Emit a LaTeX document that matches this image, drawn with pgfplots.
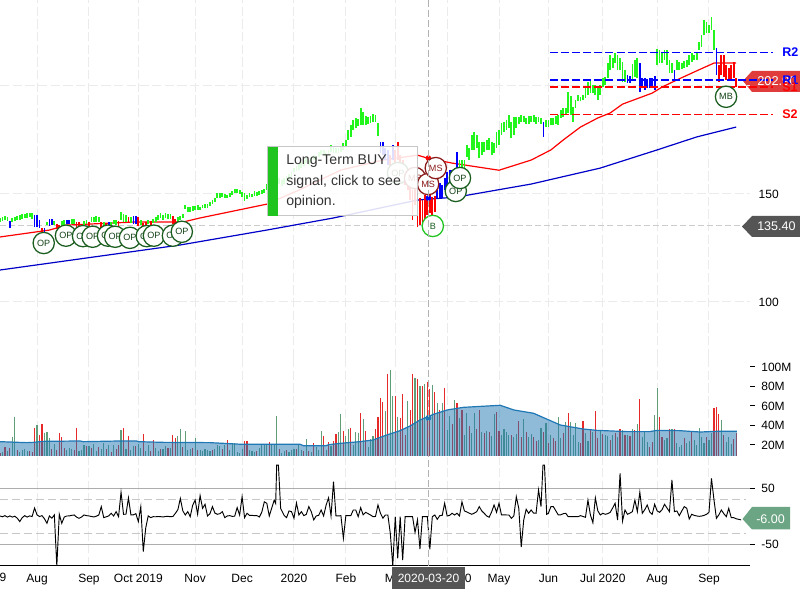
\documentclass[border=0pt]{standalone}
\usepackage{fontspec}
\setmainfont{Liberation Sans}
\usepackage{pgfplots}
\usepackage{pgfplotstable}
\pgfplotsset{compat=1.18}

\definecolor{barg}{HTML}{22F51C}
\definecolor{barb}{HTML}{0000FF}
\definecolor{barr}{HTML}{FF0000}
\definecolor{maline}{HTML}{0000C8}
\definecolor{gridc}{HTML}{EBEBEB}
\definecolor{volg}{HTML}{5F9E78}
\definecolor{volr}{HTML}{E62A2A}
\definecolor{avgb}{HTML}{1F77B4}
\definecolor{opg}{HTML}{1B5E20}
\definecolor{msr}{HTML}{8B1A1A}
\definecolor{bgr}{HTML}{1FC41F}
\definecolor{tagd}{HTML}{555555}
\definecolor{tagr}{HTML}{E03C3C}
\definecolor{tagg}{HTML}{6BA583}

% price bars: day, low, high
\pgfplotstableread{
i lo hi
0 137 138.9
1 137.5 139.3
2 138 139.8
3 137.5 139.3
5 137 138.9
6 137.5 139.3
7 138 139.8
8 138 140.3
9 138.4 140.7
10 138.9 140.7
11 138.9 141.2
12 139.3 141.2
13 138.4 141.2
19 135.6 137
22 135.6 137.5
25 135.6 137.5
26 135.6 138
29 136.1 138.4
30 136.1 138.4
34 135.2 137.5
35 136.1 138
37 137 139.3
38 137 139.3
39 137 139.8
40 137 139.3
42 135.2 137
45 135.2 137
46 136.1 138
47 135.6 138
49 138 141.6
50 137 140.7
51 137 140.3
53 136.6 139.3
57 135.6 138
60 136.1 138
62 136.6 138.4
63 137 139.3
64 138 140.3
65 138.9 141.2
66 138 140.3
67 138.9 141.2
68 138.4 140.7
69 138.4 140.7
72 137 139.3
73 138 139.8
74 138.9 140.7
75 143 144.9
76 141.6 143.9
77 141.6 143.9
78 142.1 144.4
79 142.6 144.4
80 142.6 144.9
81 142.6 143.9
82 143.5 144.9
83 143.5 145.3
84 143.5 145.3
85 144.4 146.3
86 145.3 147.2
87 146.3 148.1
88 148.1 150.4
89 148.1 150.4
90 148.6 150.4
91 148.1 150
92 148.1 149.5
93 148.6 150.4
94 149.5 151.4
95 150.4 152.3
96 150.4 152.3
97 150 151.8
98 148.6 150.9
99 146.7 150.4
100 147.7 149.5
101 148.6 150.4
102 148.6 150
103 149.1 151.4
104 149.1 150.9
105 149.5 151.4
106 150 151.8
107 150.4 152.3
108 151.8 154.6
109 151.8 154.1
110 152.8 154.6
111 153.2 155.5
112 154.1 157.4
113 154.6 157.4
114 153.7 156.5
115 154.6 157.4
116 155.5 158.3
117 156.5 159.2
118 157.8 160.2
119 160.2 162
120 160.6 163
121 161.1 163.9
122 162 164.8
123 163 165.7
124 164.3 166.6
125 163.4 165.7
126 164.3 166.6
127 165.7 168
128 165.2 167.6
129 167.1 169.4
130 168 170.4
131 168.5 170.4
132 167.1 169
133 168 170.4
134 169.4 172.7
135 169 172.2
136 169 171.3
137 169 171.3
138 169.4 172.2
139 170.4 173.6
140 171.7 175
141 175 179.6
142 176.4 181.9
143 179.6 184.2
144 180.5 185.2
145 181.5 184.7
146 181.9 189.8
147 181.9 188
148 181.9 186.1
149 182.4 185.6
150 182.8 186.1
151 183.3 187
152 183.3 186.6
153 176.8 182.8
184 157.4 162
186 161.1 165.7
187 162 165.7
188 161.1 165.7
189 167.1 172.7
190 165.7 171.3
191 170.4 177.3
192 170.4 178.7
193 171.3 177.3
194 166.6 174
195 168 174
196 169.4 174
197 170.4 175
198 170.4 175.9
199 168 174
200 169 173.6
201 171.3 178.7
202 172.7 179.6
203 177.3 182.8
204 178.7 183.3
205 179.6 184.2
206 180.5 186.6
207 175.9 183.3
208 177.3 185.6
209 180.5 185.6
210 182.4 185.6
211 183.3 186.6
212 183.3 186.1
213 182.4 185.2
214 182.4 186.1
215 183.3 186.1
216 183.3 186.6
217 182.4 185.6
218 183.3 185.6
219 182.4 185.2
221 181 184.2
222 181 184.2
223 181.9 185.2
224 181.9 185.2
225 182.4 186.1
226 181.9 186.6
227 185.2 188.9
228 185.6 189.8
229 186.6 189.8
230 187.5 197.2
231 186.6 195.4
232 183.3 190.3
233 189.8 193.5
234 193 195.8
235 193 194.9
236 193.5 195.8
237 194.4 199.5
238 195.8 201.8
239 196.7 202.8
240 196.7 200.4
241 195.8 200.4
242 193.5 199.5
243 195.8 200.4
244 199.5 203.7
245 200.4 204.1
246 203.7 210.6
247 207.4 214.3
248 208.3 213
249 210.6 215.3
250 207.4 214.3
251 207.4 213
252 201.8 211.1
253 201.8 207.4
256 202.8 210.2
257 204.1 212
258 203.7 213
266 209.7 217.1
267 210.6 216.6
268 210.6 215.7
269 212 216.6
270 209.7 216.6
271 206 212
272 206 210.6
274 207.4 212
275 207.4 211.1
276 207.9 210.6
277 208.3 211.6
278 208.8 212
279 209.7 214.3
280 211.1 215.3
281 212 214.3
282 212 215.7
283 216.6 220.4
284 218 223.6
285 223.6 230.5
286 224.5 229.6
287 224.5 228.2
288 225.9 231.9
289 216.6 225.9
}\greenbars
\pgfplotstableread{
i lo hi
4 134.2 137.5
14 134.7 140.3
15 134.7 140.3
16 134.2 138
18 131.9 134.2
20 135.2 138.4
21 135.6 138.4
27 136.1 138
28 136.1 138
44 135.2 137
54 136.1 139.8
55 136.1 139.8
154 169 174
155 168 174
156 165.7 171.3
157 163.4 170.4
159 165.7 172.7
177 148.1 151.8
178 148.1 155
179 148.1 154.1
180 151.8 157.4
181 151.8 160.2
182 152.8 161.1
183 154.1 161.1
185 161.1 169.4
220 176.4 183.3
254 201.4 205.1
255 201.4 204.6
259 197.2 210.6
260 199 203.7
261 198.1 203.7
262 199 203.2
263 199 203.7
264 199.5 203.7
265 198.1 204.6
273 202.8 207.4
290 205.1 217.6
}\bluebars
\pgfplotstableread{
i lo hi
17 131.9 134.2
23 133.8 136.1
24 133.8 135.6
31 134.2 137
32 133.3 137
33 134.2 136.1
36 134.2 137
41 134.2 137
43 134.7 136.6
48 134.2 137.5
52 136.6 139.3
56 135.2 139.3
58 134.2 136.6
59 134.7 137
61 135.6 137.5
70 136.1 139.8
71 136.1 138.4
158 161.1 168
160 161.1 170.4
161 165.7 174
162 158.8 168
163 157.4 165.7
164 154.1 163.4
165 151.8 161.1
166 147.2 156.5
167 138 151.8
168 144.9 154.1
169 134.7 148.6
170 135.6 148.1
171 137 147.2
172 138 149.5
173 140.3 148.1
174 141.2 149.5
175 140.3 148.6
176 141.6 149.1
291 201.8 209.7
292 205.1 214.3
293 204.1 214.3
294 202.8 209.7
295 202.8 208.3
296 202.8 209.7
297 203.7 211.1
298 199.5 203.7
}\redbars
% opinion markers
\pgfplotstableread{
i p t
17.7 127.3 OP
26.7 130.7 OP
33.6 130.5 OP
37.5 130.2 OP
43.7 130.7 OP
46.6 130.2 OP
52.6 129.7 OP
59.4 130.5 OP
62.3 130.7 OP
70 130.7 OP
73.6 132.5 OP
161.1 159.7 OP
184.5 151.4 OP
186.2 157.4 OP
293.9 195 MB
}\opmarks
\pgfplotstableread{
i p t
168 157.4 MS
173.3 154.6 MS
176.4 162 MS
}\msmarks
\pgfplotstableread{
i p t
175.2 135.2 B
}\bmarks
% volume average
\pgfplotstableread{
i v
0 23.4
10.8 22.4
13.5 22.7
17.5 23.7
32.4 24.1
33.7 23.4
48.6 24.1
55.3 24.1
56 23.4
66 22.7
85 22.4
97.8 20.7
121.5 20.7
122.8 19.3
132 19.3
133 20.3
137.7 21.7
145.7 23.4
151 25.1
156.5 30.2
162 34.7
166 39.5
170 45.6
175.5 51.5
181 55.9
187.6 58.6
202.5 60.7
208 55.9
216 52.5
226.8 40.5
236 36.4
241.6 35
253.8 33.7
263 33.7
266 35
275 34.7
283.5 33.3
290 34
298.3 34
}\volavg

\begin{document}
\begin{tikzpicture}[x=0.75pt,y=0.75pt]
\path[use as bounding box] (0,0) rectangle (800,600);

% tags that sit under the lines
\fill[tagr] (743,519) -- (752,529) -- (800,529) -- (800,508) -- (752,508) -- cycle;

\pgfplotsset{
  panel/.style={
    scale only axis, width=562.5pt, anchor=south west,
    xmin=0, xmax=303.6,
    xtick={15,36,56,79,98,119,140,160,181,202,222,244,266,287},
    xmajorgrids, ymajorgrids,
    major grid style={gridc, line width=0.75pt, dash pattern=on 7pt off 2.5pt},
    axis line style={draw=none},
    xticklabel=\empty, x tick style={draw=none},
    yticklabel pos=right,
    tick label style={font=\fontsize{9}{11}\selectfont, black},
    /pgf/number format/assume math mode=true,
  },
  candle/.style={draw=none, no markers, forget plot,
    error bars/.cd, y dir=plus, y explicit, error mark=none,
    error bar style={color=#1, line width=1.35pt}},
  sig/.style 2 args={draw=none, no markers, forget plot,
    nodes near coords, point meta=explicit symbolic,
    nodes near coords style={circle, draw=#1, text=#2, fill=white, line width=0.95pt,
      minimum size=16pt, inner sep=0pt, anchor=center, font=\fontsize{6.8}{8}\selectfont}},
  pivot/.style={#1, line width=1.1pt, dash pattern=on 6pt off 2.3pt},
}

% price panel
\begin{axis}[panel, at={(0pt,181.5pt)}, height=268.5pt, ymin=74.07, ymax=239.81,
    clip=false, ytick={100,150,200}, yticklabels={100,150,},
    y tick style={draw=none},
    yticklabel style={anchor=west, xshift=3pt}]
\addplot[line width=1.1pt, color=black!20, dash pattern=on 4.5pt off 2.3pt, forget plot]
  coordinates {(0,135.4) (301,135.4)};
\addplot[maline, line width=0.9pt, forget plot] coordinates {
  (0,114.8) (73,126.4) (108,133.3) (135,138.9) (169,147.2) (185,148.6)
  (215,154.6) (243,162) (266,170.4) (282,176.4) (298,181)};
\addplot[barr, line width=0.9pt, forget plot] coordinates {
  (0,130.1) (20,133.3) (27,135.6) (54,137) (74,137) (81,138.9) (108,145.3)
  (121,151.8) (138,161.1) (155,165.7) (169,168) (173,166.6) (183,164.3)
  (202,161) (215,165.7) (223,170.4) (228,175) (235,181) (242,185.2)
  (247,187.5) (252,191.6) (264,196.7) (268,199.5) (274,202.8) (282,207)
  (289,210.6) (298,210.6)};
\addplot[candle=barg] table[x=i, y=lo, y error expr=\thisrow{hi}-\thisrow{lo}] {\greenbars};
\addplot[candle=barb] table[x=i, y=lo, y error expr=\thisrow{hi}-\thisrow{lo}] {\bluebars};
\addplot[candle=barr] table[x=i, y=lo, y error expr=\thisrow{hi}-\thisrow{lo}] {\redbars};
\addplot[pivot=barb, forget plot] coordinates {(222.7,215.6) (313,215.6)};
\addplot[pivot=barb, forget plot] coordinates {(222.7,202.8) (313,202.8)};
\addplot[pivot=barr, forget plot] coordinates {(222.7,199.5) (313,199.5)};
\addplot[pivot=barr, forget plot] coordinates {(222.7,186.8) (313,186.8)};
\addplot[only marks, mark=*, mark size=1.9pt, barr, forget plot] coordinates {(173.4,166.6)};
\addplot[only marks, mark=*, mark size=1.9pt, barb, forget plot] coordinates {(173.4,148.1)};
\addplot[sig={opg}{opg!70!black}] table[x=i, y=p, meta=t] {\opmarks};
\addplot[sig={msr}{msr}] table[x=i, y=p, meta=t] {\msmarks};
\addplot[sig={bgr}{opg}] table[x=i, y=p, meta=t] {\bmarks};
\end{axis}

% volume panel
\begin{axis}[panel, at={(0pt,108pt)}, height=73.5pt, ymin=8.7, ymax=109.2,
    ytick={20,40,60,80,100}, yticklabels={20M,40M,60M,80M,100M},
    ymajorgrids=false,
    y tick style={black, line width=0.75pt},
    tick align=outside, major tick length=3.5pt,
    yticklabel style={anchor=west, xshift=1.5pt}]
\addplot[ycomb, volg, line width=0.85pt, forget plot] coordinates {
  (1,13)(3,14)(5,27.9)(6,48.4)(8,13)(9,15)(10,16)(11,14)(15,40.2)(18,32)(19,33)(20,26.8)
  (22,21)(27,15)(28,17)(29,16)(32,14)(33,15)(34,20)(36,19)(38,21)(39,14)(41,16)(42,22)
  (44,20)(46,20)(49,35)(51,16)(53,15)(54,19)(56,21)(57,17)(59,14)(60,20)(63,17)(64,14)
  (66,16)(67,19)(69,17)(72,28.9)(73,36)(75,34)(76,15)(77,16)(79,26.8)(81,15)(82,14)
  (83,16)(84,15)(85,14)(87,16)(88,20)(89,19)(91,20)(93,15)(94,21)(95,22)(96,13)(97,12)
  (98,16)(101,15)(102,14)(103,13)(105,17)(106,21)(107,20)(108,20)(110,21)(111,20)
  (112,49.4)(114,12)(115,14)(117,13)(118,15)(119,16)(121,20)(122,15)(124,26.5)(126,13)
  (128,18)(129,15)(130,34)(132,15)(134,19)(137,33)(138,51.5)(140,28.9)(141,36)(143,20)
  (144,33)(145,32)(147,46.3)(149,18)(150,26)(151,28.9)(156,54.5)(158,96.6)(159,69.9)
  (161,48.4)(165,65.1)(168,88.4)(170,80.5)(172,82.6)(175,81.2)(177,62.7)(179,62.7)
  (181,35)(182,49.8)(184,66.2)(186,47.3)(188,30)(189,52.5)(191,32)(192,52.5)(195,33.7)
  (197,34.4)(199,29)(200,51.5)(203,30)(204,36.4)(205,33)(206,30.3)(208,28.5)(209,31)
  (212,46.3)(214,28)(215,31.3)(218,25)(219,37)(221,42.2)(223,30.3)(226,49)(227,26.8)
  (229,43.2)(231,43.2)(232,30)(233,42.2)(234,23.4)(237,32)(238,24)(240,33.7)(243,35.4)
  (245,30)(246,29.2)(248,30.3)(250,28)(252,35.4)(254,30.3)(256,36)(258,41.5)(260,28)
  (261,33.7)(262,23.4)(265,50.8)(266,78.1)(269,25)(270,26.8)(272,36)(274,21.7)(275,18.3)
  (276,20)(278,22)(279,24)(281,25)(282,20)(283,37)(284,27.9)(285,22)(287,25)(288,32)
  (292,45.6)(294,23)(295,28.5)(296,20.7)};
\addplot[ycomb, volr, line width=0.85pt, forget plot] coordinates {
  (0,12)(2,18)(4,17)(7,15)(12,14)(13,13)(14,37.8)(16,29.9)(17,41.2)(21,16)(23,15)(24,32)
  (25,27.9)(26,17)(30,15)(31,37.8)(35,19)(37,17)(40,18)(43,16)(45,13)(47,16)(48,20)(50,37)
  (52,28.9)(55,19)(58,30.9)(61,14)(62,25)(65,16)(68,17)(70,29.9)(71,26.8)(74,18)(78,17)
  (80,15)(86,15)(90,16)(92,24.8)(99,24)(100,24)(104,14)(109,22.7)(113,16)(116,15)(120,16)
  (123,14)(125,14)(127,22.4)(131,28.9)(133,23.4)(135,23.7)(136,30.9)(139,34.7)(142,37.8)
  (146,52.5)(148,34.7)(152,36)(153,48.4)(154,67.9)(155,63.8)(157,92.5)(160,70.6)
  (162,47.3)(163,72)(164,30)(166,55.9)(167,92.5)(169,87.4)(171,80.5)(173,85)(174,77)
  (176,74.7)(178,55.9)(180,78.1)(183,41.2)(185,62.7)(187,55.9)(190,39.8)(193,36.4)
  (194,55.9)(196,32)(198,33.7)(201,54.2)(202,34.7)(207,30.3)(210,44.6)(211,28)(213,33.7)
  (216,28.5)(217,24)(220,33.7)(222,21.7)(224,26.8)(225,24)(228,32)(230,52.5)(235,21.7)
  (236,44.6)(239,36)(241,54.9)(242,27)(244,31)(247,25)(249,32)(251,36)(253,30.3)(255,29.2)
  (257,35.4)(259,66.8)(263,18.3)(264,23.4)(267,48.4)(268,27.9)(271,36)(273,36)(277,26.8)
  (280,34.7)(286,27.9)(289,57.6)(290,59.3)(291,51.5)(293,30.3)(297,25.8)(298,32.6)};
\addplot[draw=none, fill=avgb, fill opacity=0.5, forget plot] table[x=i, y=v] {\volavg} \closedcycle;
\addplot[avgb, line width=0.9pt, forget plot] table[x=i, y=v] {\volavg};
\addplot[only marks, mark=*, mark size=2pt, avgb, forget plot] coordinates {(173.4,47.7)};
\end{axis}

% oscillator panel
\begin{axis}[panel, at={(0pt,25.5pt)}, height=81.75pt, ymin=-87.6, ymax=105.3,
    axis x line*=bottom, axis y line*=right,
    x axis line style={draw=black, line width=0.75pt, -},
    y axis line style={draw=none},
    ytick={-50,50}, yticklabels={-50,50},
    ymajorgrids=false,
    y tick style={black, line width=0.75pt},
    tick align=outside, major tick length=3.5pt,
    yticklabel style={anchor=west, xshift=1.5pt},
    xticklabels={Aug,Sep,Oct 2019,Nov,Dec,2020,Feb,Mar,Apr 2020,May,Jun,Jul 2020,Aug,Sep},
    xticklabel style={yshift=1pt}]
\addplot[black!32, line width=1.1pt, forget plot] coordinates {(0,50) (303.6,50)};
\addplot[black!32, line width=1.1pt, forget plot] coordinates {(0,-50) (303.6,-50)};
\addplot[black!22, line width=0.8pt, dash pattern=on 6pt off 3pt, forget plot] coordinates {(0,30.4) (302,30.4)};
\addplot[black!22, line width=0.8pt, dash pattern=on 6pt off 3pt, forget plot] coordinates {(0,-30.4) (302,-30.4)};
\addplot[black, line width=0.7pt, forget plot] coordinates {
  (0,0.9)(1,-0.5)(2,1.5)(3,-1)(4,1)(5,-1)(6,0.5)(7,-3)(8,-9)(9,-2)(10,1.5)(11,-1)(12,1)(13,0)
  (14,15)(15,2.7)(16,0)(17,1.5)(18,-4)(19,-12)(20,1)(21,-3)(22,2.7)(23,-87.6)(24,4)(25,-12)
  (26,-1)(27,0.9)(28,1)(29,2)(30,2.7)(31,-1)(32,-3.2)(33,-1)(34,2.7)(35,1.5)(36,1)(37,0)
  (38,-0.8)(39,0.5)(40,2.7)(41,17.5)(42,-2)(43,-0.5)(44,1)(45,5.7)(46,0.9)(47,8.6)(48,-0.3)
  (49,43)(50,3.9)(51,4)(52,33)(53,2.7)(54,3)(55,5)(56,-9)(57,17.5)(58,-62)(59,-20)(60,1)
  (61,-2)(62,-0.3)(63,-0.5)(64,0)(65,-0.3)(66,-0.8)(67,0)(68,0.2)(69,-0.3)(70,0)(71,5.7)
  (72,12)(73,32)(74,10)(75,2.7)(76,8.6)(77,-0.3)(78,20)(79,29)(80,4)(81,37)(82,14.5)(83,21.6)
  (84,0.9)(85,5)(86,17.5)(87,6)(88,3.9)(89,5)(90,8.6)(91,-2)(92,1)(93,1.5)(94,0.3)(95,0.5)
  (96,15.7)(97,2.7)(98,35)(99,-2)(100,5.7)(101,2)(102,2)(103,1.5)(104,1.5)(105,-0.8)(106,8)
  (107,26)(108,23.4)(109,0.9)(110,15)(111,29)(111.6,23)(112,91)(112.7,91)(113.6,14.5)(115,2)
  (116,-2)(117,9.8)(118,8.6)(119,-3.2)(120,24)(121,2.7)(122,8.6)(123,1.5)(124,3.9)(125,17.5)
  (126,8.6)(127,-6)(128,1)(129,2)(130,11.5)(131,1)(132,20)(133,33)(134,1)(135,61.7)(136,1)
  (137,1)(138,1.5)(139,-38.6)(140,1.5)(141,1.5)(142,1.5)(143,11.5)(144,11.5)(145,-0.3)
  (146,15.7)(147,3)(148,7.4)(149,5)(150,2.7)(151,-0.3)(152,0)(153,20.4)(154,5.7)(155,-3)
  (156,2.7)(157,2.7)(158,-30)(159,-87.6)(160,-0.3)(161,-74)(162,-0.3)(163,-77)(164,-0.3)
  (165,-0.3)(166,-0.3)(167,-0.3)(168,-28)(169,-6)(170,-57.5)(171,-0.3)(172,-0.3)(173,-0.3)
  (174,-58)(175,-0.3)(176,2.7)(177,-5)(178,1.5)(179,2)(180,23.4)(181,0.9)(182,2)(183,5.7)
  (184,2.7)(185,5.7)(186,0.9)(187,26)(188,9.8)(189,8)(190,5.7)(191,3.9)(192,6)(193,8.6)
  (194,17.5)(195,10)(196,5.7)(197,1)(198,-1.4)(199,8)(200,20.4)(201,7.4)(202,23.4)(203,2.7)
  (204,3)(205,2.7)(206,2.7)(207,-3.2)(208,0.9)(209,35)(210,14.5)(211,-54)(212,-6.2)(213,12.7)
  (214,5.7)(215,11.5)(216,6)(217,5.7)(218,47)(219,17.5)(219.8,91)(220.4,91)(221.3,3.9)(222,5.7)
  (223,17.5)(224,17.5)(225,10)(226,2.7)(227,3)(228,5)(229,5.7)(230,-0.3)(231,-0.3)(232,-0.3)
  (233,-0.3)(234,-0.3)(235,1.5)(236,0)(237,-1.4)(238,29)(239,2.7)(240,-11)(241,33)(242,10)
  (243,2.7)(244,5.7)(245,3.9)(246,5)(247,7.4)(248,15)(249,23.4)(250,-6.2)(251,76.4)(252,-8)
  (253,11.5)(254,3.9)(255,6)(256,8.6)(257,29)(258,8.6)(259,43)(260,5.7)(261,12)(262,20.4)
  (263,8)(264,3.9)(265,21.6)(266,10)(267,7.4)(268,12)(269,21.6)(270,15)(271,8.6)(272,64.6)
  (273,8.6)(274,9.8)(275,1.5)(276,10)(277,17.5)(278,14.5)(279,-4.4)(280,3.9)(281,2)(282,1)
  (283,0.3)(284,0.8)(285,2)(286,3.9)(287,7.4)(288,67.6)(289,30)(290,-3.2)(291,3)(292,11.5)
  (293,5)(294,-0.3)(295,14.5)(296,-2)(297,-2)(298,-4)(299,-5)(300,-6)};
\end{axis}

% cursor
\draw[black!30, line width=0.75pt, dash pattern=on 5pt off 2.5pt] (428.3,600) -- (428.3,34);

% hover box
\fill[white, fill opacity=0.87] (267.5,384) rectangle (417,453);
\draw[black!22, line width=0.75pt] (267.5,384) rectangle (417,453);
\fill[bgr] (267.5,384) rectangle (277.5,453);
\node[anchor=north west, inner sep=0pt, align=left, text=black!80,
      font=\fontsize{10.6}{15.3}\selectfont] at (286,445)
  {Long-Term BUY\\signal, click to see\\opinion.};

% value tags
\node[anchor=west, inner sep=0pt, text=white, font=\fontsize{9.6}{11}\selectfont] at (757,519) {202.90};
\fill[tagd] (742,373.5) -- (752,384) -- (800,384) -- (800,363) -- (752,363) -- cycle;
\node[anchor=west, inner sep=0pt, text=white, font=\fontsize{9.4}{11}\selectfont] at (757,373.5) {135.40};
\fill[tagg] (742.5,81) -- (752,93) -- (790,93) -- (790,70.5) -- (752,70.5) -- cycle;
\node[anchor=west, inner sep=0pt, text=white, font=\fontsize{9.4}{11}\selectfont] at (756,81) {-6.00};
\fill[tagd] (392,33) rectangle (465,11);
\node[text=white, inner sep=0pt, font=\fontsize{9}{11}\selectfont] at (428.5,22) {2020-03-20};

% pivot names and the clipped first tick label
\foreach \t/\c/\yy in {R2/barb/548, R1/barb/520, S1/barr/513, S2/barr/486}
  \node[anchor=west, inner sep=0pt, text=\c, font=\fontsize{9.4}{11}\bfseries\selectfont] at (782,\yy) {\t};
\node[inner sep=0pt, font=\fontsize{9}{11}\selectfont] at (3,23) {9};
\end{tikzpicture}
\end{document}
